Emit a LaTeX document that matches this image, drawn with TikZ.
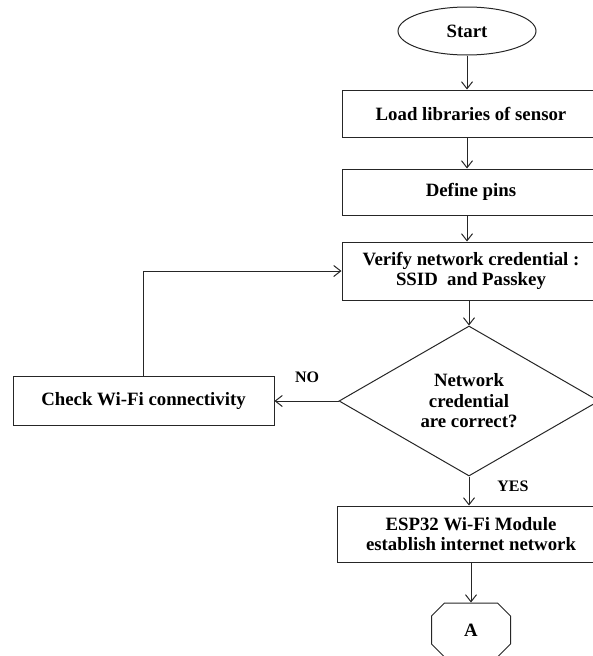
\documentclass[tikz,border=0pt]{standalone}
\usepackage{fontspec}
\setmainfont{Liberation Serif}
\usetikzlibrary{shapes.geometric,shapes.misc,arrows.meta}

\begin{document}
\begin{tikzpicture}[x=1pt,y=-1pt]
			\tikzset{box/.style={rectangle, draw=black!85, line width=1pt, font=\bfseries\fontsize{18.8}{20.5}\selectfont, align=center, inner sep=0pt}};
			\tikzset{flow/.style={draw=black!85, line width=1pt, -{Straight Barb[length=7pt,width=11pt]}}};
			\tikzset{lbl/.style={font=\bfseries\fontsize{16}{18}\selectfont, inner sep=0pt}};
			\useasboundingbox (0,0) rectangle (593,656);

			\node[box,ellipse,minimum width=138pt,minimum height=48pt] (start) at (467,31) {Start};
			\node[box,minimum width=258pt,minimum height=47pt] (load) at (471,113.5) {Load libraries of sensor};
			\node[box,minimum width=258pt,minimum height=46pt] (pins) at (471,192) {Define pins};
			\node[box,minimum width=258pt,minimum height=58pt] (verify) at (471,271) {Verify network credential :\\SSID \ and Passkey};
			\node[box,diamond,aspect=1.7,minimum width=260pt,minimum height=150pt] (check) at (469,401) {Network\\credential\\are correct?};
			\node[box,minimum width=261pt,minimum height=49pt] (wifi) at (143.5,401) {Check Wi-Fi connectivity};
			\node[box,minimum width=268pt,minimum height=56pt] (esp) at (471,534) {ESP32 Wi-Fi Module\\establish internet network};
			\node[box,chamfered rectangle,chamfered rectangle xsep=10pt,chamfered rectangle ysep=10pt,minimum width=79pt,minimum height=54pt] (conn) at (471,630) {A};

			\node[lbl] (no) at (307,377) {NO};
			\node[lbl] (yes) at (513,486) {YES};

			\draw[flow] (start) -- (start |- load.north);
			\draw[flow] (load.south -| start) -- (start |- pins.north);
			\draw[flow] (pins.south -| start) -- (start |- verify.north);
			\draw[flow] (verify.south -| check) -- (check);
			\draw[flow] (check.west) -- (wifi.east);
			\draw[flow] (wifi.north) |- (verify.west);
			\draw[flow] (check.south) -- (check |- esp.north);
			\draw[flow] (esp) -- (conn);
		\end{tikzpicture}
\end{document}
